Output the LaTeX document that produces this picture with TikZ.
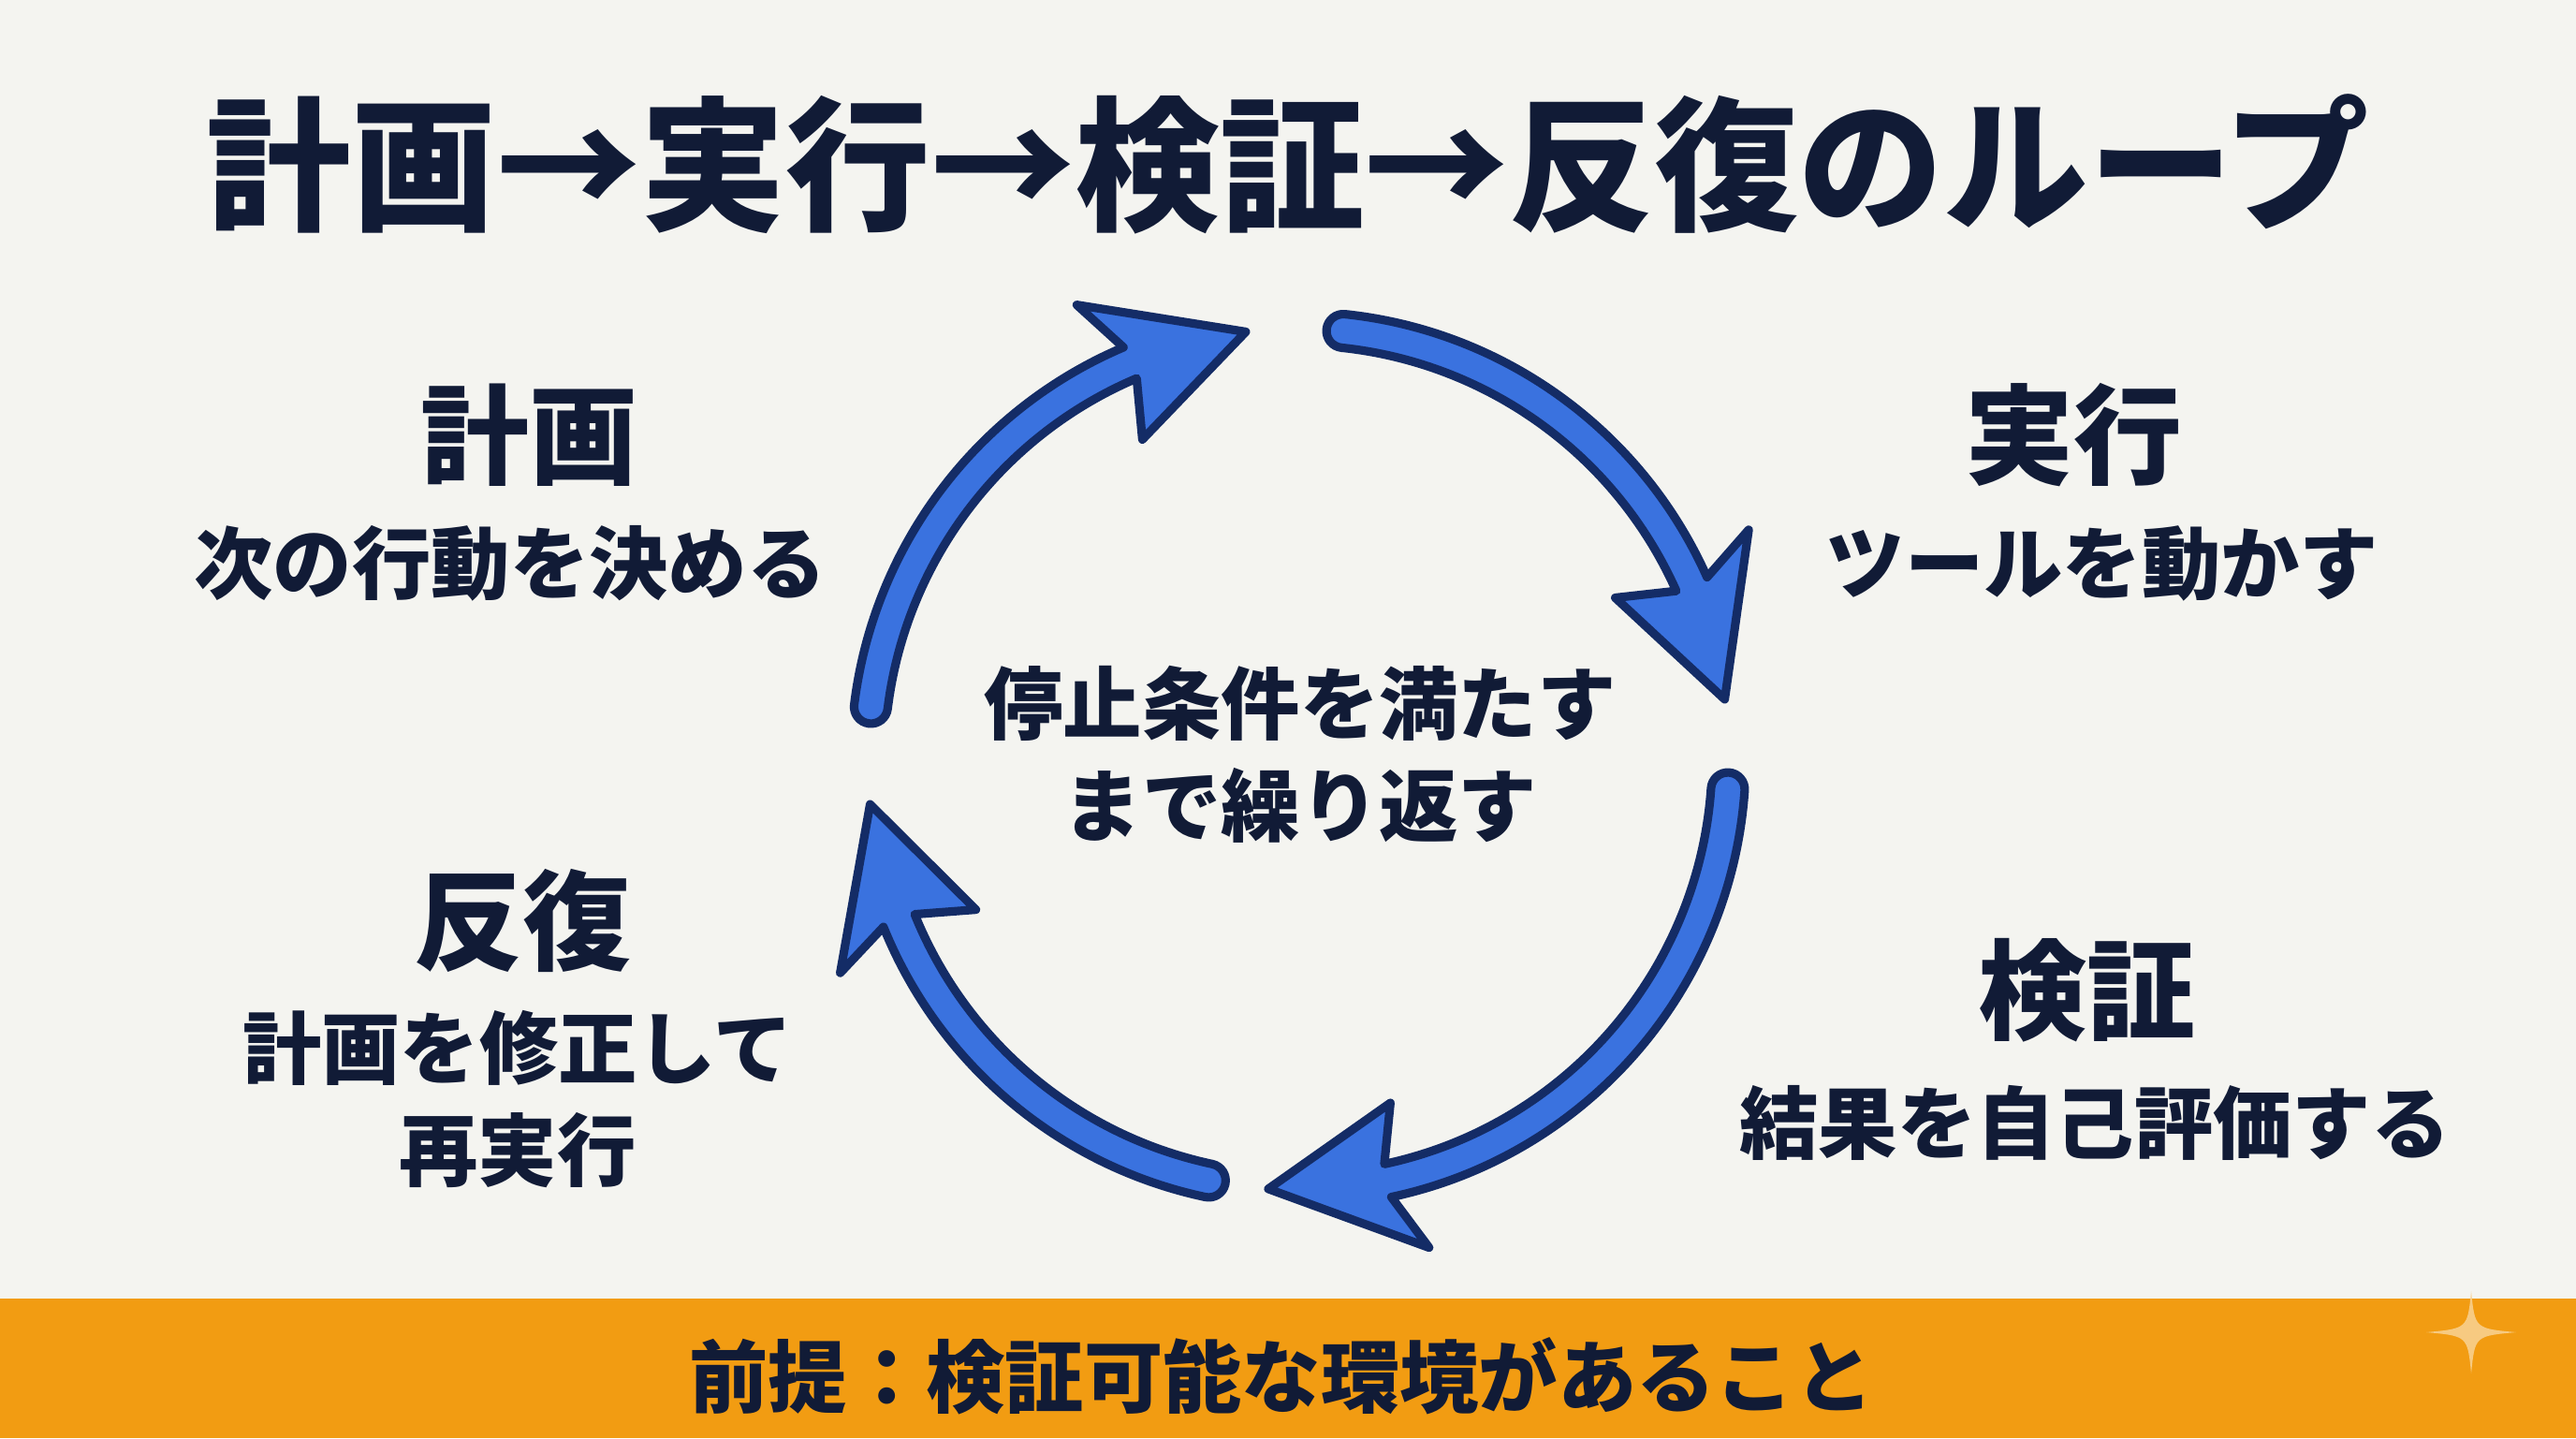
\documentclass[tikz,border=0pt]{standalone}
\usepackage{fontspec}
\setmainfont{Noto Sans CJK JP}
\usetikzlibrary{positioning}
\definecolor{bgpaper}{HTML}{F4F4F0}
\definecolor{inknavy}{HTML}{111B36}
\definecolor{loopblue}{HTML}{3A72DF}
\definecolor{loopedge}{HTML}{142C66}
\definecolor{barorange}{HTML}{F29C12}
\definecolor{sparkle}{HTML}{F8CF8E}

\begin{document}
\begin{tikzpicture}[x=1cm,y=1cm]
    \tikzstyle{heading}=[text=inknavy, font=\fontsize{33}{38}\selectfont\bfseries, inner sep=0pt]
    \tikzstyle{desc}=[text=inknavy, font=\fontsize{24}{31}\selectfont\bfseries, inner sep=0pt, align=center]
    \tikzstyle{loopband}=[fill=loopblue, draw=loopedge, line width=2.6pt, line join=round]
    \useasboundingbox (0,0) rectangle (27.52,15.36);
    \fill[bgpaper] (0,0) rectangle (27.52,15.36);
    \fill[barorange] (0,0) rectangle (27.52,1.49);

    % title
    \node[text=inknavy, font=\fontsize{44}{50}\selectfont\bfseries, inner sep=0pt] (title) at (13.76,13.61) {計画→実行→検証→反復のループ};

    % four steps
    \node[heading] (plan) at (5.65,10.71) {計画};
    \node[desc] (plandesc) at (5.45,9.34) {次の行動を決める};
    \node[heading] (exec) at (22.15,10.71) {実行};
    \node[desc] (execdesc) at (22.46,9.34) {ツールを動かす};
    \node[heading] (verify) at (22.29,4.78) {検証};
    \node[desc] (verifydesc) at (22.38,3.37) {結果を自己評価する};
    \node[heading] (iterate) at (5.58,5.53) {反復};
    \node[desc] (iteratedesc) at (5.53,3.62) {計画を修正して\\再実行};

    % loop arrows
    \coordinate (loopcenter) at (13.87,7.25);
    \node[desc] (stopnote) at (13.89,7.30) {停止条件を満たす\\まで繰り返す};
    \begin{scope}[shift={(loopcenter)}]
      \foreach \s/\e in {173/97, 84/8, -4/-94, -102/-174} {
        \draw[loopband] (\s:4.42) arc[start angle=\s, end angle=\e+16, radius=4.42]
          -- ({\e+19}:3.8) -- (\e:4.6) -- ({\e+19}:5.4) -- ({\e+16}:4.78)
          arc[start angle=\e+16, end angle=\s, radius=4.78]
          arc[start angle=\s, end angle=\s+180, radius=0.18] -- cycle;
      }
    \end{scope}

    % premise bar
    \node[text=inknavy, font=\fontsize{24}{30}\selectfont\bfseries, inner sep=0pt] (premise) at (13.69,0.66) {前提：検証可能な環境があること};
    \fill[sparkle, opacity=0.9] (26.40,1.57) .. controls (26.44,1.17) .. (26.88,1.13)
      .. controls (26.44,1.09) .. (26.40,0.69) .. controls (26.36,1.09) .. (25.92,1.13)
      .. controls (26.36,1.17) .. (26.40,1.57) -- cycle;
\end{tikzpicture}
\end{document}
